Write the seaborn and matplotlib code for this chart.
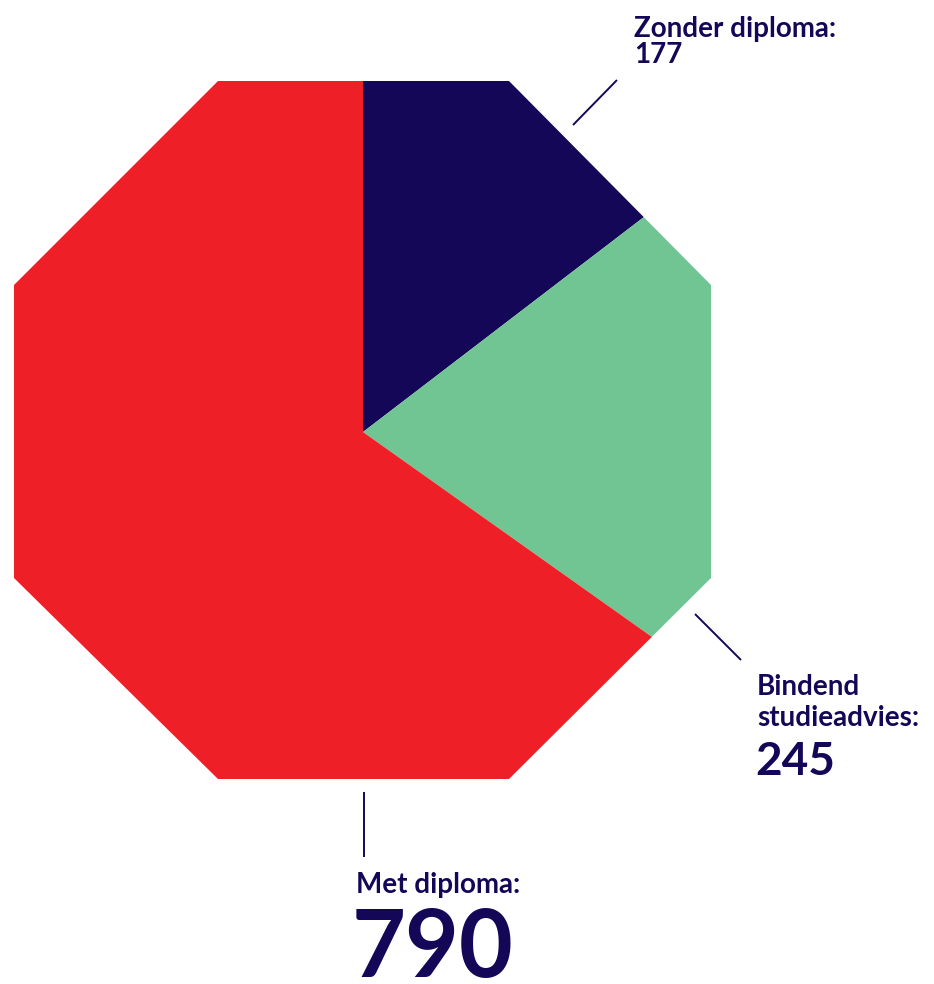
import matplotlib
matplotlib.use("Agg")
import matplotlib.pyplot as plt
from matplotlib.patches import PathPatch
from matplotlib.path import Path
import seaborn as sns

# Uitstroom: aantallen per categorie
categories = ["Zonder diploma", "Bindend studieadvies", "Met diploma"]
values = [177, 245, 790]
colors = ["#140758", "#71C593", "#EE1F26"]
text_color = "#140758"

sns.set_theme(style="white")
plt.rcParams["font.family"] = ["Lato", "DejaVu Sans"]

W, H = 934, 984
fig = plt.figure(figsize=(W / 100, H / 100), dpi=100)
ax = fig.add_axes([0, 0, 1, 1])

cx, cy = 363, H - 432

wedges, _ = ax.pie(values, colors=colors, startangle=90, counterclock=False,
                   center=(cx, cy), radius=600,
                   wedgeprops=dict(linewidth=0, antialiased=True))

# White mask around a regular octagon gives the pie its octagonal outline
octagon = [(218, 81), (509, 81), (711, 285), (711, 578),
           (509, 779), (218, 779), (14, 578), (14, 285)]
octagon = [(x, H - y) for x, y in octagon]
outer = [(-50, -50), (W + 50, -50), (W + 50, H + 50), (-50, H + 50)]
verts = outer + [outer[0]] + octagon + [octagon[0]]
codes = ([Path.MOVETO] + [Path.LINETO] * 3 + [Path.CLOSEPOLY]
         + [Path.MOVETO] + [Path.LINETO] * 7 + [Path.CLOSEPOLY])
mask = PathPatch(Path(verts, codes), facecolor="white", edgecolor="none",
                 zorder=2)
ax.add_patch(mask)

ax.set_xlim(0, W)
ax.set_ylim(0, H)
ax.set_aspect("equal")
ax.axis("off")

# Leader lines
line_kw = dict(color=text_color, linewidth=1.4, solid_capstyle="butt", zorder=3)
ax.plot([573, 617], [H - 125, H - 80], **line_kw)
ax.plot([695, 741], [H - 614, H - 660], **line_kw)
ax.plot([364, 364], [H - 792, H - 857], **line_kw)

# Labels
small = 20
tkw = dict(fontweight="bold", color=text_color, ha="left", va="baseline",
           zorder=4)
ax.text(634, H - 37, f"{categories[0]}:", fontsize=small, **tkw)
ax.text(634, H - 63, f"{values[0]}", fontsize=small, **tkw)

ax.text(757, H - 695, "Bindend", fontsize=small, **tkw)
ax.text(757, H - 726, "studieadvies:", fontsize=small, **tkw)
ax.text(755, H - 775, f"{values[1]}", fontsize=33, **tkw)

ax.text(356, H - 893, f"{categories[2]}:", fontsize=small, **tkw)
ax.text(352, H - 977, f"{values[2]}", fontsize=67, **tkw)

fig.savefig("out.png", dpi=100, facecolor="white")
